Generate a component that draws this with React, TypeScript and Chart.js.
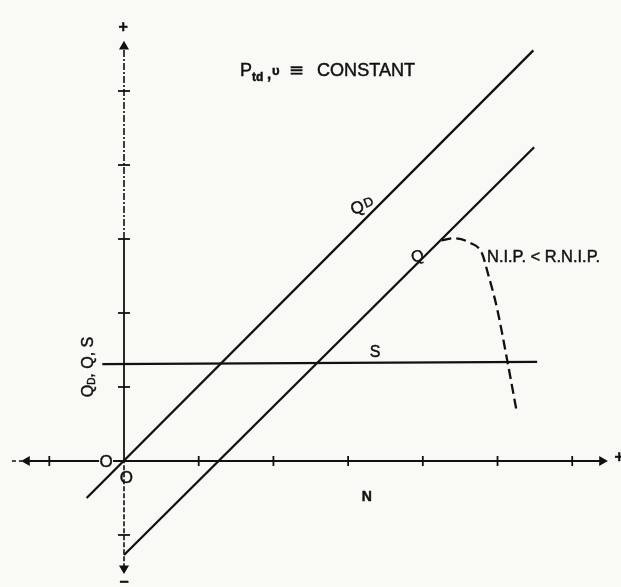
import React, { useEffect, useRef } from "react";
import { Chart, registerables } from "chart.js";
Chart.register(...registerables);

// Line values (N on x, Q_D / Q / S on y)
const qdX = [-0.5, 5.48];
const qdY = [-0.5, 5.55];
const qX = [0, 5.49];
const qY = [-1.27, 4.24];
const sX = [-0.29, 5.53];
const sY = [1.31, 1.34];
const nipX = [4.25, 4.4, 4.63, 4.79, 4.87, 4.99, 5.13, 5.26];
const nipY = [2.98, 3.01, 2.95, 2.81, 2.54, 2.08, 1.36, 0.65];
const xTicks = [-1, 1, 2, 3, 4, 5, 6];
const yTicks = [-1, 1, 2, 3, 4, 5];
const xAxisRange = [-1.3, 6.4];
const yAxisSolid = [0, 3];
const yAxisUpper = [3, 5.6];
const yAxisLower = [-1.45, 0];
const xAxisDash = [-1.5, -1.36];

const INK = "#111111";
const BG = "#f9f9f6";

const pts = (xs: number[], ys: number[]) => xs.map((v, i) => ({ x: v, y: ys[i] }));

const bgPlugin = {
  id: "bg",
  beforeDraw(chart: any) {
    const { ctx, width, height } = chart;
    ctx.save();
    ctx.fillStyle = BG;
    ctx.fillRect(0, 0, width, height);
    ctx.restore();
  },
};

const labelPlugin = {
  id: "labels",
  afterDatasetsDraw(chart: any) {
    const { ctx } = chart;
    const xs = chart.scales.x;
    const ys = chart.scales.y;
    const px = (v: number) => xs.getPixelForValue(v);
    const py = (v: number) => ys.getPixelForValue(v);
    const F = "'Liberation Sans', Arial, sans-serif";
    const put = (t: string, x: number, y: number) => {
      ctx.fillText(t, x, y);
      ctx.strokeText(t, x, y);
    };
    ctx.save();
    ctx.fillStyle = INK;
    ctx.strokeStyle = INK;
    ctx.lineWidth = 0.45;
    ctx.textBaseline = "alphabetic";
    ctx.textAlign = "left";

    // Title: P_td, υ ≡ CONSTANT
    const t0 = px(1.553);
    const tb = py(5.2);
    ctx.font = `18px ${F}`;
    put("P", t0, tb);
    ctx.font = `bold 12px ${F}`;
    put("td", t0 + 12, tb + 5);
    ctx.font = `bold 15px ${F}`;
    put(",", t0 + 27, tb + 3);
    ctx.font = `bold 13px ${F}`;
    put("υ", t0 + 32, tb - 1);
    ctx.font = `18px 'DejaVu Sans', sans-serif`;
    put("≡", t0 + 49, tb);
    ctx.font = `18px ${F}`;
    const cw = ctx.measureText("CONSTANT").width;
    ctx.save();
    ctx.translate(t0 + 77, tb);
    ctx.scale(98 / cw, 1);
    put("CONSTANT", 0, 0);
    ctx.restore();

    // Q_D line label
    ctx.save();
    ctx.translate(px(3.17), py(3.43));
    ctx.rotate((-22 * Math.PI) / 180);
    ctx.textBaseline = "middle";
    ctx.font = `17px ${F}`;
    put("Q", -10, 0);
    const qw = ctx.measureText("Q").width;
    ctx.font = `13px ${F}`;
    put("D", -10 + qw + 1, -1);
    ctx.restore();

    // Q label
    ctx.save();
    ctx.translate(px(3.93), py(2.76));
    ctx.rotate((-15 * Math.PI) / 180);
    ctx.textBaseline = "middle";
    ctx.textAlign = "center";
    ctx.font = `16px ${F}`;
    put("Q", 0, 0);
    ctx.restore();

    // N.I.P. < R.N.I.P.
    ctx.textBaseline = "middle";
    ctx.font = `16px ${F}`;
    const nipText = "N.I.P. < R.N.I.P.";
    const nw = ctx.measureText(nipText).width;
    ctx.save();
    ctx.translate(px(4.86), py(2.75));
    ctx.scale(113 / nw, 1);
    put(nipText, 0, 0);
    ctx.restore();

    // S and N labels
    ctx.textAlign = "center";
    ctx.font = `16px ${F}`;
    put("S", px(3.36), py(1.47));
    ctx.font = `bold 14px ${F}`;
    put("N", px(3.25), py(-0.49));

    // Origin labels with paper behind to break the axis
    ctx.font = `17px ${F}`;
    const ox = px(-0.24);
    const oy = py(0);
    ctx.fillStyle = BG;
    ctx.fillRect(ox - 7, oy - 6, 14, 12);
    ctx.fillStyle = INK;
    put("O", ox, oy + 1);
    put("O", px(0.03), py(-0.24));

    // Signs at axis ends
    ctx.font = `bold 16px ${F}`;
    put("+", px(-0.01), py(5.86));
    put("+", px(6.63), py(0.05));
    put("−", px(0), py(-1.64));

    // Y axis title
    ctx.save();
    ctx.translate(px(-0.48), py(1.27));
    ctx.rotate(-Math.PI / 2);
    ctx.textAlign = "left";
    ctx.textBaseline = "middle";
    ctx.font = `16px ${F}`;
    const a = "Q";
    const b = "D";
    const c = ", Q, S";
    const wa = ctx.measureText(a).width;
    const wc = ctx.measureText(c).width;
    ctx.font = `10px ${F}`;
    const wb = ctx.measureText(b).width;
    const total = wa + wb + wc;
    let sx = -total / 2;
    ctx.font = `16px ${F}`;
    put(a, sx, 0);
    sx += wa;
    ctx.font = `10px ${F}`;
    put(b, sx, 4);
    sx += wb;
    ctx.font = `16px ${F}`;
    put(c, sx, 0);
    ctx.restore();

    ctx.restore();
  },
};

const lineDs = (data: any[], width: number, dash: number[] = []) => ({
  data,
  borderColor: INK,
  borderWidth: width,
  borderDash: dash,
  pointRadius: 0,
  showLine: true,
  fill: false,
  tension: 0,
});

const markDs = (data: any[], style: string, radius: number, rotation: number) => ({
  data,
  showLine: false,
  pointStyle: style,
  pointRadius: radius,
  pointRotation: rotation,
  pointBorderColor: INK,
  pointBackgroundColor: INK,
  pointBorderWidth: 1.8,
});

export default function App() {
  const ref = useRef<HTMLCanvasElement | null>(null);
  useEffect(() => {
    if (!ref.current) return;
    const datasets: any[] = [
      lineDs(pts(xAxisRange, [0, 0]), 1.8),
      lineDs(pts(xAxisDash, [0, 0]), 1.6, [4, 3]),
      lineDs(pts([0, 0], yAxisSolid), 1.8),
      lineDs(pts([0, 0], yAxisUpper), 1.6, [7, 2, 2, 2]),
      lineDs(pts([0, 0], yAxisLower), 1.6, [5, 2]),
      lineDs(pts(qdX, qdY), 2.3),
      lineDs(pts(qX, qY), 2.3),
      lineDs(pts(sX, sY), 2.3),
      { ...lineDs(pts(nipX, nipY), 2.3, [10, 5]), cubicInterpolationMode: "monotone" },
      markDs(xTicks.map((v) => ({ x: v, y: 0 })), "line", 5, 90),
      markDs(yTicks.map((v) => ({ x: 0, y: v })), "line", 6, 0),
      markDs([{ x: xAxisRange[0], y: 0 }], "triangle", 4, -90),
      markDs([{ x: xAxisRange[1], y: 0 }], "triangle", 4, 90),
      markDs([{ x: 0, y: yAxisUpper[1] }], "triangle", 4, 0),
      markDs([{ x: 0, y: yAxisLower[0] }], "triangle", 4, 180),
    ];
    const chart = new Chart(ref.current, {
      type: "scatter",
      data: { datasets },
      options: {
        animation: false,
        responsive: false,
        devicePixelRatio: 1,
        layout: { padding: 0, autoPadding: false },
        plugins: { legend: { display: false }, tooltip: { enabled: false } },
        events: [],
        scales: {
          x: { type: "linear", min: -1.66, max: 6.653, display: false },
          y: { type: "linear", min: -1.703, max: 6.23, display: false },
        },
      } as any,
      plugins: [bgPlugin, labelPlugin],
    });
    return () => chart.destroy();
  }, []);
  return (
    <div style={{ position: "absolute", left: 0, top: 0, width: 621, height: 587 }}>
      <canvas ref={ref} width={621} height={587} style={{ width: 621, height: 587, display: "block" }} />
    </div>
  );
}
